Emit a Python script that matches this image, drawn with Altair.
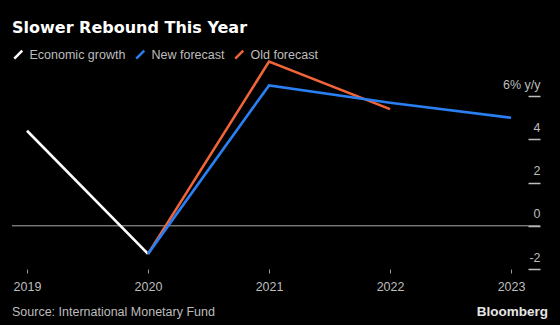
import altair as alt
import pandas as pd

# Data (% y/y)
series_names = ["Economic growth", "New forecast", "Old forecast"]
growth_years = [2019, 2020]
growth_values = [4.4, -1.3]
new_years = [2020, 2021, 2022, 2023]
new_values = [-1.3, 6.5, 5.7, 5.0]
old_years = [2020, 2021, 2022]
old_values = [-1.3, 7.6, 5.4]
year_ticks = [2019, 2020, 2021, 2022, 2023]
value_ticks = [-2, 0, 2, 4, 6]
colors = ["#ffffff", "#2a7ff2", "#f0653a"]

rows = []
for name, ys, vs in [
    (series_names[0], growth_years, growth_values),
    (series_names[2], old_years, old_values),
    (series_names[1], new_years, new_values),
]:
    for i, (y, v) in enumerate(zip(ys, vs)):
        rows.append({"series": name, "year": y, "value": v, "order": i})
df = pd.DataFrame(rows)

FONT = "Liberation Sans"
LABEL = "#bdbdbd"

x_scale = alt.Scale(domain=[2018.876, 2023.14], nice=False, zero=False)
y_scale = alt.Scale(domain=[-2, 8], nice=False, zero=False)

y_axis = alt.Axis(
    orient="right",
    values=value_ticks,
    title=None,
    grid=False,
    domain=False,
    ticks=True,
    tickSize=12,
    tickColor="#bdbdbd",
    tickWidth=1.5,
    labelAlign="right",
    labelBaseline="alphabetic",
    labelPadding=0,
    labelOffset=-8,
    labelColor=LABEL,
    labelFont=FONT,
    labelFontSize=12.5,
    labelExpr="datum.value == 6 ? '6% y/y' : replace(datum.label, '−', '-')",
)

zero_rule = alt.Chart(pd.DataFrame({"value": [0]})).mark_rule(
    color="#a8a8a8", strokeWidth=1
).encode(
    y=alt.Y("value:Q", scale=y_scale, axis=y_axis),
    x=alt.value(0),
    x2=alt.value(528),
)

lines = alt.Chart(df).mark_line(strokeWidth=2.6, strokeCap="butt").encode(
    x=alt.X(
        "year:Q",
        scale=x_scale,
        axis=alt.Axis(
            values=year_ticks,
            format="d",
            title=None,
            grid=False,
            domain=False,
            ticks=True,
            tickSize=4,
            tickColor="#9a9a9a",
            tickWidth=1,
            labelColor=LABEL,
            labelFont=FONT,
            labelFontSize=12.5,
            labelPadding=7,
        ),
    ),
    y=alt.Y("value:Q", scale=y_scale, axis=y_axis),
    color=alt.Color(
        "series:N",
        scale=alt.Scale(domain=series_names, range=colors),
        legend=alt.Legend(
            title=None,
            orient="none",
            legendX=0,
            legendY=-5,
            direction="horizontal",
            symbolType="M-1,1L1,-1",
            symbolSize=64,
            symbolStrokeWidth=2.5,
            labelColor=LABEL,
            labelFont=FONT,
            labelFontSize=12.5,
            labelOffset=5,
            columnPadding=5,
        ),
    ),
    detail="series:N",
    order="order:Q",
)

source = alt.Chart(pd.DataFrame({"t": ["Source: International Monetary Fund"]})).mark_text(
    align="left", baseline="alphabetic", font=FONT, fontSize=12.5, color=LABEL
).encode(text="t:N", x=alt.value(0), y=alt.value(263))

brand = alt.Chart(pd.DataFrame({"t": ["Bloomberg"]})).mark_text(
    align="right", baseline="alphabetic", font=FONT, fontSize=13.5, fontWeight="bold", color="#e6e6e6"
).encode(text="t:N", x=alt.value(536), y=alt.value(263))

chart = alt.layer(zero_rule, lines, source, brand).properties(
    width=516,
    height=216,
    background="#000000",
    padding={"left": 12, "top": 53, "right": 32, "bottom": 56},
    autosize=alt.AutoSizeParams(type="none"),
    title=alt.TitleParams(
        "Slower Rebound This Year",
        anchor="start",
        frame="group",
        font="DejaVu Sans",
        fontSize=16,
        fontWeight="bold",
        color="#ffffff",
        baseline="alphabetic",
        offset=14,
        dy=15,
    ),
).configure_view(stroke=None).configure_axis(labelOverlap=False)

chart.save("out.html", embed_options={"renderer": "svg", "actions": False})
